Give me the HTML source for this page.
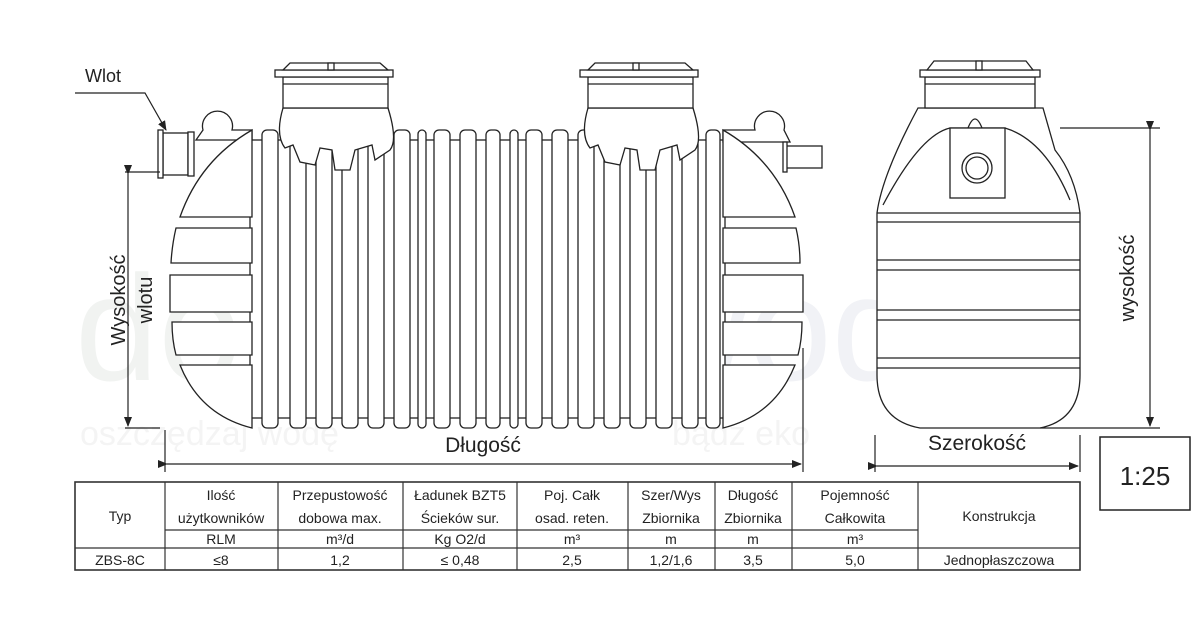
<!DOCTYPE html>
<html><head><meta charset="utf-8"><style>
html,body{margin:0;padding:0;background:#fff;width:1200px;height:628px;overflow:hidden}
svg{display:block;font-family:"Liberation Sans",sans-serif}
</style></head><body>
<svg width="1200" height="628" viewBox="0 0 1200 628" xmlns="http://www.w3.org/2000/svg">
<defs>
<marker id="ar" markerWidth="10" markerHeight="8" refX="9" refY="4" orient="auto" markerUnits="userSpaceOnUse"><path d="M0,0 L10,4 L0,8 Z" fill="#222"/></marker>
</defs>
<!-- watermark -->
<g fill="#f1f3f1" font-size="150">
<text x="75" y="380">dom</text><text x="640" y="380" fill="#f1f2f6">woda</text>
</g>
<g fill="#f4f4f4" font-size="34"><text x="80" y="445">oszczędzaj wodę</text><text x="672" y="445">bądź eko</text></g>

<g fill="#fff" stroke="#222" stroke-width="1.3">
<rect x="250" y="140" width="475" height="278"/>
<g id="ribs">
<rect x="262" y="130" width="16" height="298" rx="5"/>
<rect x="290" y="130" width="16" height="298" rx="5"/>
<rect x="316" y="130" width="16" height="298" rx="5"/>
<rect x="342" y="130" width="16" height="298" rx="5"/>
<rect x="368" y="130" width="16" height="298" rx="5"/>
<rect x="394" y="130" width="16" height="298" rx="5"/>
<rect x="418" y="130" width="8" height="298" rx="4"/>
<rect x="434" y="130" width="16" height="298" rx="5"/>
<rect x="460" y="130" width="16" height="298" rx="5"/>
<rect x="486" y="130" width="14" height="298" rx="5"/>
<rect x="510" y="130" width="8" height="298" rx="4"/>
<rect x="526" y="130" width="16" height="298" rx="5"/>
<rect x="552" y="130" width="16" height="298" rx="5"/>
<rect x="578" y="130" width="16" height="298" rx="5"/>
<rect x="604" y="130" width="16" height="298" rx="5"/>
<rect x="630" y="130" width="16" height="298" rx="5"/>
<rect x="656" y="130" width="16" height="298" rx="5"/>
<rect x="682" y="130" width="16" height="298" rx="5"/>
<rect x="706" y="130" width="14" height="298" rx="5"/>
</g>
<!-- bumps -->
<path d="M196,140 L203,130 A15,15 0 1 1 232,130 L252,130 L252,140 Z"/>
<path d="M723,130 L755,130 A15,15 0 1 1 784,130 L790,142 L723,142 Z"/>
<!-- left cap -->
<path d="M252,130 L252,217 L180,217 Q200,160 252,130 Z"/>
<path d="M252,228 L252,263 L171,263 Q172,245 176,228 Z"/>
<path d="M252,275 L252,312 L170,312 L170,275 Z"/>
<path d="M252,322 L252,355 L176,355 Q172,340 172,322 Z"/>
<path d="M252,365 L252,428 Q200,415 180,365 Z"/>
<!-- right cap -->
<path d="M723,130 L723,217 L795,217 Q775,160 723,130 Z"/>
<path d="M723,228 L723,263 L800,263 Q800,245 796,228 Z"/>
<path d="M723,275 L723,312 L803,312 L803,275 Z"/>
<path d="M723,322 L723,355 L798,355 Q802,340 802,322 Z"/>
<path d="M723,365 L723,428 Q775,415 795,365 Z"/>
<!-- inlet pipe -->
<rect x="163" y="133" width="25" height="42"/>
<rect x="158" y="130" width="5" height="48"/>
<rect x="188" y="132" width="6" height="44"/>
<!-- outlet pipe -->
<rect x="786" y="146" width="36" height="22"/>
<rect x="783" y="142" width="4" height="30"/>
<!-- manholes -->
<g id="mh1">
<path d="M283,108 L388,108 Q398,140 390,150 L375,160 L372,145 L355,150 L350,170 L335,170 L332,150 L320,148 L315,165 L300,162 L293,145 L285,148 Q275,135 283,108 Z"/>
<rect x="283" y="77" width="105" height="31"/>
<line x1="283" y1="84" x2="388" y2="84"/>
<rect x="275" y="70" width="118" height="7"/>
<path d="M283,70 L290,63 L380,63 L388,70 Z"/>
<rect x="328" y="63" width="6" height="7"/>
</g>
<use href="#mh1" transform="translate(305,0)"/>
<!-- side view -->
<path d="M918,108 L1043,108 L1055,150 Q1075,175 1080,213 L1080,375 Q1080,420 1040,428 L920,428 Q877,420 877,375 L877,213 Q882,175 918,108 Z"/>
<path d="M877,213 L1080,213 M877,222 L1080,222 M877,260 L1080,260 M877,270 L1080,270 M877,310 L1080,310 M877,320 L1080,320 M877,358 L1080,358 M877,368 L1080,368" fill="none"/>
<path d="M883,205 Q920,135 950,128 L1005,128 Q1045,140 1070,200" fill="none"/>
<rect x="950" y="128" width="55" height="70"/>
<circle cx="977" cy="168" r="15"/><circle cx="977" cy="168" r="11"/>
<path d="M968,128 Q975,110 982,128" fill="none"/>
<rect x="925" y="77" width="110" height="31"/>
<line x1="925" y1="84" x2="1035" y2="84"/>
<rect x="920" y="70" width="120" height="7"/>
<path d="M927,70 L934,61 L1026,61 L1033,70 Z"/>
<rect x="976" y="61" width="6" height="9"/>
</g>

<!-- dimensions -->
<g stroke="#222" stroke-width="1.2" fill="none">
<line x1="1060" y1="128" x2="1160" y2="128"/>
<line x1="1040" y1="428" x2="1160" y2="428"/>
<line x1="1150" y1="130" x2="1150" y2="426" marker-start="url(#ar)" marker-end="url(#ar)"/>
<line x1="875" y1="435" x2="875" y2="472"/>
<line x1="1080" y1="435" x2="1080" y2="472"/>
<line x1="877" y1="466" x2="1078" y2="466" marker-start="url(#ar)" marker-end="url(#ar)"/>
<line x1="165" y1="430" x2="165" y2="472"/>
<line x1="803" y1="348" x2="803" y2="472"/>
<line x1="167" y1="464" x2="801" y2="464" marker-start="url(#ar)" marker-end="url(#ar)"/>
<line x1="125" y1="172" x2="160" y2="172"/>
<line x1="125" y1="428" x2="160" y2="428"/>
<line x1="128" y1="174" x2="128" y2="426" marker-start="url(#ar)" marker-end="url(#ar)"/>
<polyline points="75,93 145,93 166,130" marker-end="url(#ar)"/>
<rect x="1100" y="437" width="90" height="73" stroke-width="1.5"/>
</g>
<g fill="#222">
<text x="85" y="82" font-size="18">Wlot</text>
<text x="483" y="452" font-size="21" text-anchor="middle">Długość</text>
<text x="977" y="450" font-size="21" text-anchor="middle">Szerokość</text>
<text x="1145" y="485" font-size="26" text-anchor="middle">1:25</text>
<text transform="translate(125,300) rotate(-90)" font-size="20" text-anchor="middle">Wysokość</text>
<text transform="translate(152,300) rotate(-90)" font-size="20" text-anchor="middle">wlotu</text>
<text transform="translate(1134,278) rotate(-90)" font-size="20" text-anchor="middle">wysokość</text>
</g>

<!-- table -->
<g stroke="#333" stroke-width="1.2" fill="none">
<rect x="75" y="482" width="1005" height="88" stroke-width="1.6"/>
<line x1="165" y1="530" x2="918" y2="530"/>
<line x1="75" y1="548" x2="1080" y2="548"/>
<line x1="165" y1="482" x2="165" y2="570"/><line x1="278" y1="482" x2="278" y2="570"/>
<line x1="403" y1="482" x2="403" y2="570"/><line x1="517" y1="482" x2="517" y2="570"/>
<line x1="628" y1="482" x2="628" y2="570"/><line x1="715" y1="482" x2="715" y2="570"/>
<line x1="792" y1="482" x2="792" y2="570"/><line x1="918" y1="482" x2="918" y2="570"/>
</g>
<g fill="#222" font-size="14" text-anchor="middle">
<text x="120" y="521">Typ</text>
<text x="221" y="500">Ilość</text><text x="221" y="523">użytkowników</text>
<text x="340" y="500">Przepustowość</text><text x="340" y="523">dobowa max.</text>
<text x="460" y="500">Ładunek BZT5</text><text x="460" y="523">Ścieków sur.</text>
<text x="572" y="500">Poj. Całk</text><text x="572" y="523">osad. reten.</text>
<text x="671" y="500">Szer/Wys</text><text x="671" y="523">Zbiornika</text>
<text x="753" y="500">Długość</text><text x="753" y="523">Zbiornika</text>
<text x="855" y="500">Pojemność</text><text x="855" y="523">Całkowita</text>
<text x="999" y="521">Konstrukcja</text>
<text x="221" y="544">RLM</text><text x="340" y="544">m³/d</text><text x="460" y="544">Kg O2/d</text>
<text x="572" y="544">m³</text><text x="671" y="544">m</text><text x="753" y="544">m</text><text x="855" y="544">m³</text>
<text x="120" y="565">ZBS-8C</text><text x="221" y="565">≤8</text><text x="340" y="565">1,2</text>
<text x="460" y="565">≤ 0,48</text><text x="572" y="565">2,5</text><text x="671" y="565">1,2/1,6</text>
<text x="753" y="565">3,5</text><text x="855" y="565">5,0</text><text x="999" y="565">Jednopłaszczowa</text>
</g>
</svg>
</body></html>
